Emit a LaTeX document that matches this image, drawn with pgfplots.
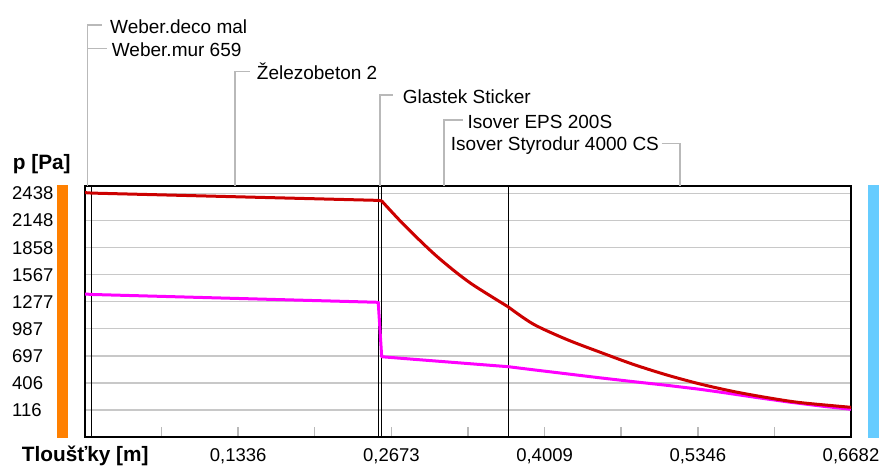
\documentclass[border=0pt]{standalone}
\usepackage{fontspec}
\setmainfont{Liberation Sans}
\usepackage{pgfplots}
\pgfplotsset{compat=1.18}
\definecolor{cred}{RGB}{204,0,0}
\definecolor{cmag}{RGB}{255,0,255}
\definecolor{corange}{RGB}{255,128,0}
\definecolor{cblue}{RGB}{102,204,255}
\definecolor{cgrid}{RGB}{200,200,200}
\definecolor{clead}{RGB}{185,185,185}
\begin{document}
\begin{tikzpicture}[x=1pt,y=1pt,font=\fontsize{18.5}{22}\selectfont]
\useasboundingbox (0,0) rectangle (885,466);
% side bars
\fill[corange] (57.3,28.3) rectangle (68.3,281);
\fill[cblue] (868.3,28.3) rectangle (879.3,281);
\begin{axis}[
  at={(85pt,29pt)}, anchor=south west, scale only axis,
  width=766pt, height=251pt,
  xmin=0, xmax=0.6682, ymin=-173, ymax=2516,
  axis line style={black, line width=2pt},
  xtick={0.1336,0.2673,0.4009,0.5346,0.6682},
  minor xtick={0.0668,0.2004,0.3341,0.4677,0.6014},
  xticklabels={{0,1336},{0,2673},{0,4009},{0,5346},{0,6682}},
  ytick={116,406.25,696.5,986.75,1277,1567.25,1857.5,2147.75,2438},
  yticklabels={116,406,697,987,1277,1567,1858,2148,2438},
  tick align=inside, xtick pos=bottom,
  major tick length=10pt, minor tick length=10pt,
  every tick/.style={clead, line width=1.5pt},
  ytick style={draw=none},
  ymajorgrids,
  major grid style={cgrid, line width=1.5pt},
  xticklabel style={anchor=base, inner sep=0pt, yshift=-24.6pt},
  yticklabel style={anchor=base west, inner sep=0pt, xshift=-73pt, yshift=-6.6pt},
  /pgf/number format/assume math mode=true,
]
% layer boundaries
\addplot[black, line width=1.3pt] coordinates {(0.0058,-173) (0.0058,2516)};
\addplot[black, line width=1.3pt] coordinates {(0.2558,-173) (0.2558,2516)};
\addplot[black, line width=1.3pt] coordinates {(0.2588,-173) (0.2588,2516)};
\addplot[black, line width=1.3pt] coordinates {(0.3693,-173) (0.3693,2516)};
% partial vapour pressure
\addplot[cmag, line width=3pt, line join=round] coordinates {
 (0,1359) (0.0058,1354) (0.2558,1270) (0.2588,687) (0.2791,667) (0.3163,631)
 (0.3693,580) (0.3911,547) (0.4202,504) (0.4492,461) (0.4783,420) (0.5074,381)
 (0.5365,338) (0.5568,303) (0.5859,250) (0.6150,200) (0.6440,156) (0.6682,124)};
% saturated vapour pressure
\addplot[cred, line width=3pt, line cap=round] coordinates {
 (0,2445) (0.0058,2440) (0.2558,2362) (0.2588,2356)};
\addplot[cred, line width=3pt, line cap=round, smooth] coordinates {
 (0.2588,2356) (0.2777,2107) (0.3025,1811) (0.3213,1615) (0.3387,1455) (0.3693,1220)};
\addplot[cred, line width=3pt, line cap=round, smooth] coordinates {
 (0.3693,1220) (0.3911,1036) (0.4202,872) (0.4492,736) (0.4783,605) (0.5074,492)
 (0.5365,395) (0.5655,315) (0.5946,250) (0.6237,196) (0.6682,145)};
\end{axis}
% leader lines (y = 466 - pixel row)
\begin{scope}[clead, line width=1.5pt]
\draw (87.5,280) -- (87.5,441) -- (101.7,441);
\draw (87.5,417.7) -- (106.7,417.7);
\draw (235,280) -- (235,394.3) -- (250,394.3);
\draw (380,280) -- (380,371) -- (393,371);
\draw (444,280) -- (444,346) -- (463,346);
\draw (661.7,322.7) -- (680,322.7) -- (680,280);
\end{scope}
\begin{scope}[every node/.style={anchor=base west, inner sep=0pt, font=\fontsize{19}{22}\selectfont}]
\node at (110,432.7) {Weber.deco mal};
\node at (111.7,409.3) {Weber.mur 659};
\node at (256.7,386) {Železobeton 2};
\node at (402.7,362) {Glastek Sticker};
\node at (467.3,337.7) {Isover EPS 200S};
\node at (450.7,315) {Isover Styrodur 4000 CS};
\end{scope}
\begin{scope}[every node/.style={anchor=base west, inner sep=0pt, font=\fontsize{20.8}{24}\selectfont\bfseries}]
\node at (12.7,296) {p [Pa]};
\node at (21.7,4.3) {Tloušťky [m]};
\end{scope}
\end{tikzpicture}
\end{document}
